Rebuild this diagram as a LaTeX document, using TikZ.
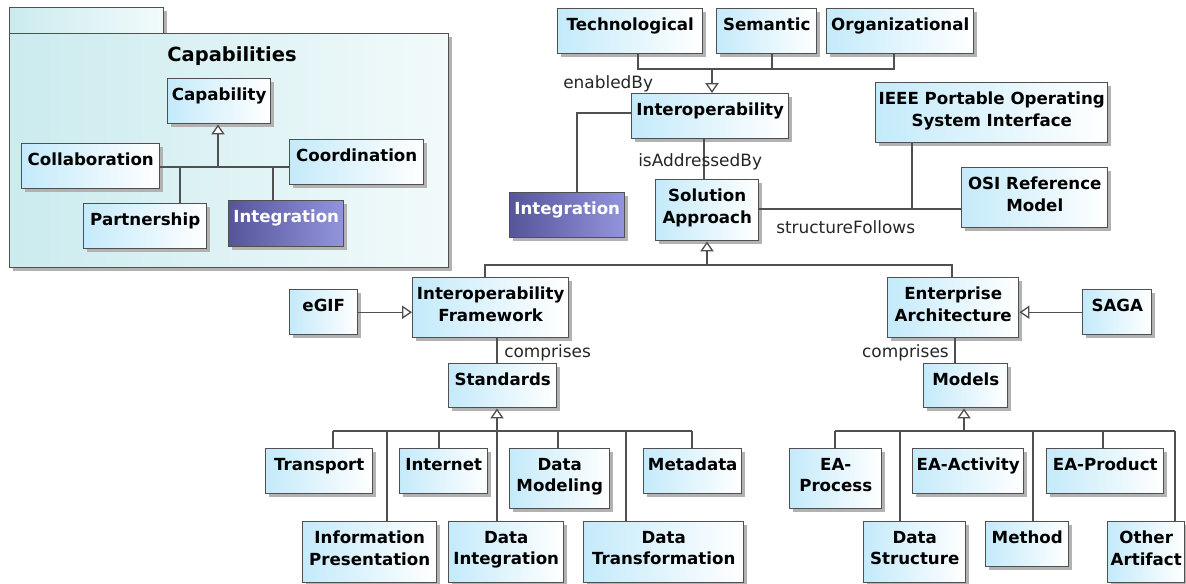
\documentclass[tikz,border=0pt]{standalone}
\usepackage{fontspec}
\setmainfont{DejaVu Sans}
\usetikzlibrary{shadows,arrows.meta}
\definecolor{bxblue}{HTML}{C4EAFA}
\definecolor{lnc}{HTML}{505050}
\definecolor{pkgc}{HTML}{CBEBEE}
\definecolor{pkgr}{HTML}{F2FAFB}
\definecolor{dkL}{HTML}{56559A}
\definecolor{dkR}{HTML}{9294DD}
\newcommand{\UB}[7]{%
  \node[#1, minimum width={(#5-#3)*0.75pt}, minimum height={(#6-#4)*0.75pt}, anchor=north west] (#2) at (#3,#4) {};
  \node[#1txt, anchor=north] (#2-t) at ([yshift=-7.5pt]#2.north) {#7};
}
\tikzset{
  shd/.style={drop shadow={shadow xshift=2.2pt, shadow yshift=-2.2pt, fill=black!30, opacity=1}},
  cls/.style={draw=lnc, line width=1.1pt, left color=bxblue, right color=white, shd, inner sep=0pt},
  clstxt/.style={font=\bfseries\fontsize{12.5}{15.9}\selectfont, align=center, inner sep=0pt, text=black},
  dark/.style={draw=lnc, line width=1.1pt, left color=dkL, right color=dkR, shd, inner sep=0pt},
  darktxt/.style={clstxt, text=white},
  pkg/.style={draw=lnc, line width=1.1pt, left color=pkgc, right color=pkgr, shd, inner sep=0pt},
  pkgtxt/.style={font=\bfseries\fontsize{14.6}{17}\selectfont, inner sep=0pt, text=black},
  line/.style={draw=lnc, line width=1pt},
  gen/.style={line, -{Triangle[open, width=10pt, length=7.5pt, fill=white]}},
  lbl/.style={font=\fontsize{12.7}{15}\selectfont, inner sep=0pt, text=black!85}
}
\begin{document}
\begin{tikzpicture}[x=0.75pt, y=-0.75pt]
\useasboundingbox (0,0) rectangle (1186,583);
\fill[white] (0,0) rectangle (1186,583);

% ---------- package ----------
\node[pkg, minimum width={(163-9)*0.75pt}, minimum height={(33-7)*0.75pt}, anchor=north west] (pkgtab) at (9,7) {};
\node[pkg, minimum width={(448-9)*0.75pt}, minimum height={(267-33)*0.75pt}, anchor=north west] (pkgbody) at (9,33) {};
\node[pkgtxt, anchor=base] (pkgtitle) at (232,61) {Capabilities};

\UB{cls}{cap}{167}{78}{270}{123}{Capability}
\UB{cls}{collab}{21}{143}{159}{188}{Collaboration}
\UB{cls}{coord}{289}{139}{423}{184}{Coordination}
\UB{cls}{partner}{83}{203}{206}{248}{Partnership}
\UB{dark}{integA}{228}{200}{343}{246}{Integration}

\coordinate (pb) at (218,167);
\coordinate (pb1) at (180,167);
\coordinate (pb2) at (273,167);
\draw[line] (collab.east |- pb) -- (coord.west |- pb);
\draw[gen] (pb) -- (pb |- cap.south);
\draw[line] (pb1) -- (pb1 |- partner.north);
\draw[line] (pb2) -- (pb2 |- integA.north);

% ---------- top ----------
\UB{cls}{tech}{557}{8}{702}{53}{Technological}
\UB{cls}{sem}{716}{8}{816}{53}{Semantic}
\UB{cls}{org}{826}{8}{973}{53}{Organizational}
\UB{cls}{interop}{631}{93}{788}{138}{Interoperability}
\UB{dark}{integB}{509}{192}{624}{237}{Integration}
\UB{cls}{sol}{655}{179}{758}{240}{Solution\\Approach}
\UB{cls}{ieee}{875}{82}{1107}{142}{IEEE Portable Operating\\System Interface}
\UB{cls}{osi}{961}{167}{1107}{227}{OSI Reference\\Model}

\coordinate (tb) at (712,69);
\coordinate (tb1) at (638,69);
\coordinate (tb2) at (772,69);
\coordinate (tb3) at (894,69);
\draw[line] (tb1 |- tech.south) -- (tb1) -- (tb3) -- (tb3 |- org.south);
\draw[line] (tb2 |- sem.south) -- (tb2);
\draw[gen] (tb) -- (tb |- interop.north);
\node[lbl, anchor=base west] (lenabled) at (563,88) {enabledBy};

\coordinate (ib) at (577,113);
\draw[line] (interop.west |- ib) -- (ib) -- (ib |- integB.north);

\coordinate (ab) at (704,160);
\draw[line] (ab |- interop.south) -- (ab |- sol.north);
\node[lbl, anchor=base west] (laddr) at (638,166) {isAddressedBy};

\coordinate (sf) at (912,209);
\draw[line] (sol.east |- sf) -- (osi.west |- sf);
\draw[line] (sf |- ieee.south) -- (sf);
\node[lbl, anchor=base west] (lstruct) at (776,233) {structureFollows};

% ---------- middle ----------
\UB{cls}{iframe}{412}{277}{568}{337}{Interoperability\\Framework}
\UB{cls}{egif}{289}{289}{357}{334}{eGIF}
\UB{cls}{ea}{887}{277}{1018}{337}{Enterprise\\Architecture}
\UB{cls}{saga}{1082}{289}{1151}{334}{SAGA}
\UB{cls}{std}{448}{363}{556}{407}{Standards}
\UB{cls}{models}{923}{363}{1007}{407}{Models}

\coordinate (gb) at (707,265);
\coordinate (gb1) at (485,265);
\coordinate (gb2) at (952,265);
\draw[line] (gb1 |- iframe.north) -- (gb1) -- (gb2) -- (gb2 |- ea.north);
\draw[gen] (gb) -- (gb |- sol.south);
\draw[gen] (egif.east) -- (egif.east -| iframe.west);
\draw[gen] (saga.west) -- (saga.west -| ea.east);

\coordinate (c1) at (497,350);
\coordinate (c2) at (955,350);
\draw[line] (c1 |- iframe.south) -- (c1 |- std.north);
\draw[line] (c2 |- ea.south) -- (c2 |- models.north);
\node[lbl, anchor=base west] (lcomp1) at (504,357) {comprises};
\node[lbl, anchor=base east] (lcomp2) at (949,357) {comprises};

% ---------- standards ----------
\UB{cls}{transp}{265}{448}{372}{493}{Transport}
\UB{cls}{inet}{399}{448}{487}{493}{Internet}
\UB{cls}{dmod}{509}{448}{609}{508}{Data\\Modeling}
\UB{cls}{meta}{643}{448}{741}{493}{Metadata}
\UB{cls}{infop}{302}{521}{436}{582}{Information\\Presentation}
\UB{cls}{dint}{448}{521}{563}{582}{Data\\Integration}
\UB{cls}{dtrans}{583}{521}{743}{582}{Data\\Transformation}

\coordinate (sb) at (497,431);
\coordinate (sbL) at (333,431);
\coordinate (sbR) at (692,431);
\draw[line] (sbL) -- (sbR);
\draw[gen] (sb) -- (sb |- std.south);
\draw[line] (sb) -- (sb |- dint.north);
\foreach \xx/\nn in {333/transp, 387/infop, 439/inet, 558/dmod, 626/dtrans, 692/meta}{
  \coordinate (tmp) at (\xx,431);
  \draw[line] (tmp) -- (tmp |- \nn.north);
}

% ---------- models ----------
\UB{cls}{eaproc}{789}{448}{881}{508}{EA-\\Process}
\UB{cls}{eaact}{912}{448}{1023}{493}{EA-Activity}
\UB{cls}{eaprod}{1046}{448}{1163}{493}{EA-Product}
\UB{cls}{dstruct}{863}{521}{965}{582}{Data\\Structure}
\UB{cls}{method}{985}{521}{1068}{566}{Method}
\UB{cls}{other}{1107}{521}{1184}{582}{Other\\Artifact}

\coordinate (mb) at (964,431);
\coordinate (mbL) at (835,431);
\coordinate (mbR) at (1175,431);
\draw[line] (mbL) -- (mbR);
\draw[gen] (mb) -- (mb |- models.south);
\foreach \xx/\nn in {835/eaproc, 900/dstruct, 1033/method, 1103/eaprod, 1175/other}{
  \coordinate (tmp) at (\xx,431);
  \draw[line] (tmp) -- (tmp |- \nn.north);
}
\end{tikzpicture}
\end{document}
